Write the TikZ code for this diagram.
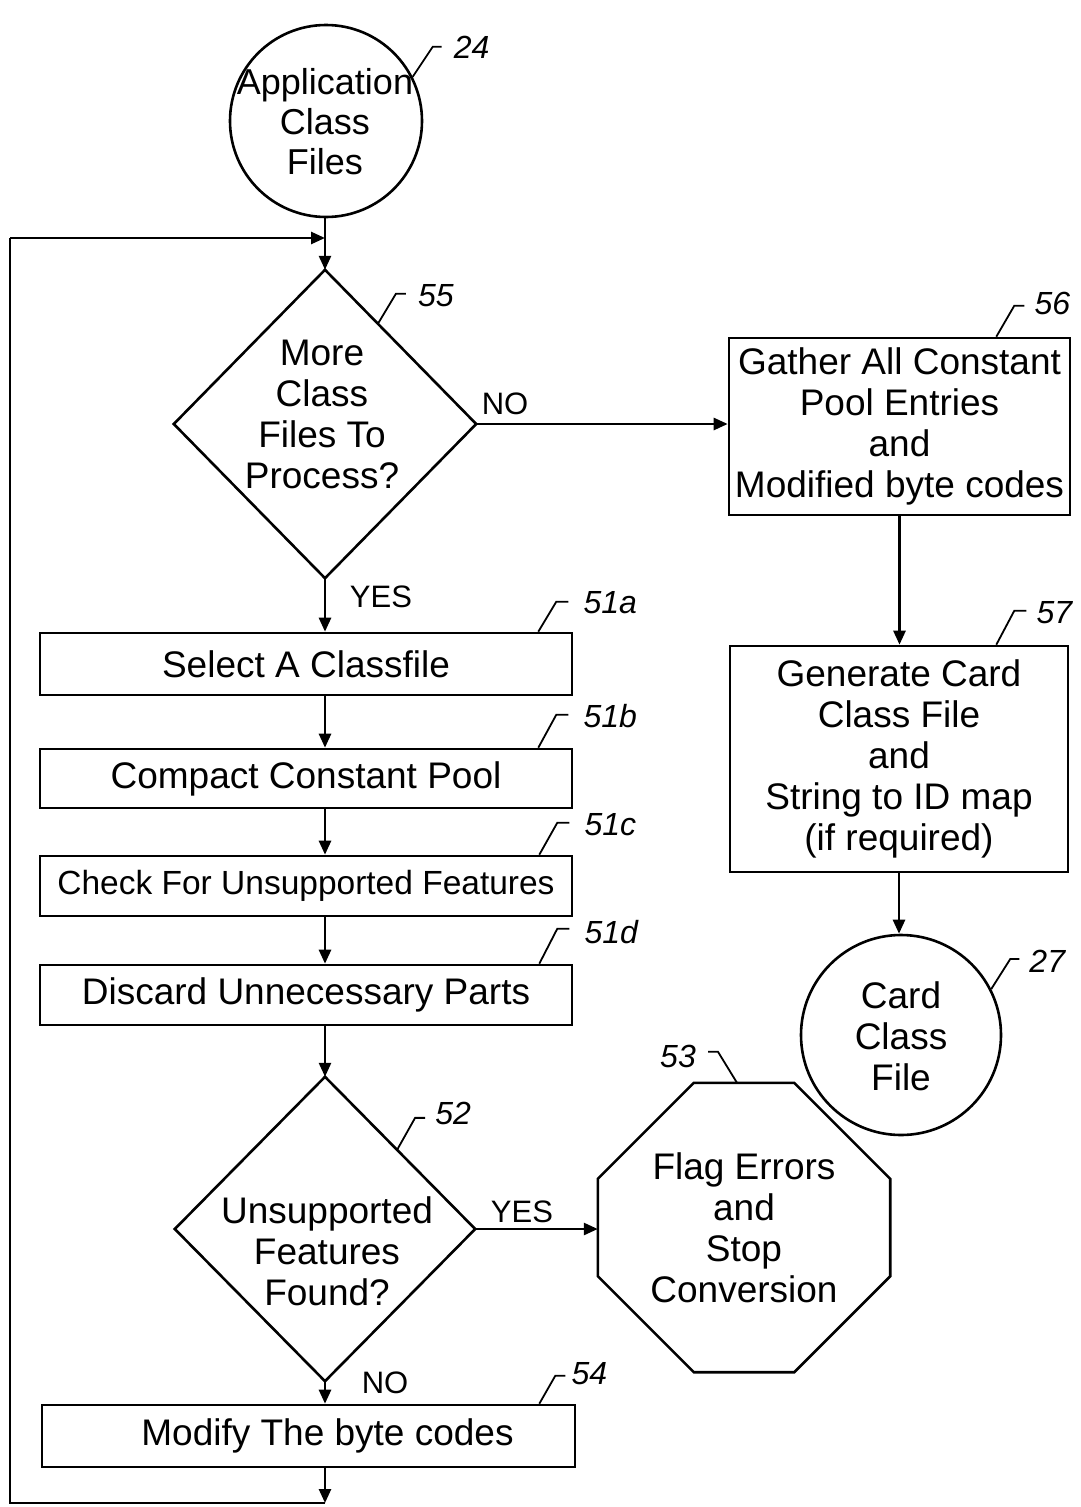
\documentclass[tikz,border=0pt]{standalone}
\usepackage{fontspec}
\setmainfont{Liberation Sans}
\usetikzlibrary{arrows.meta,calc}
\tikzset{
  ln/.style={line width=2.6pt},
  thinln/.style={line width=1.8pt},
  arr/.style={ln, -{Triangle[length=14pt,width=12pt]}},
  box/.style={draw, ln, rectangle, inner sep=0pt, align=center, font=\fontsize{37}{41}\selectfont},
  ring/.style={draw, ln, circle, inner sep=0pt},
  txt/.style={inner sep=0pt, align=center, font=\fontsize{37}{41}\selectfont},
  refnum/.style={font=\fontsize{32}{34}\selectfont\itshape, inner sep=0pt, anchor=west},
  yn/.style={font=\fontsize{31}{33}\selectfont, inner sep=0pt},
}
\begin{document}
\begin{tikzpicture}[x=1pt,y=-1pt]
\useasboundingbox (0,0) rectangle (1080,1507);

% start circle
\node[ring, minimum size=192pt] (c24) at (326,121) {};
\node[txt, font=\fontsize{36}{40}\selectfont] (t24) at (325,122) {Application\\Class\\Files};

% decision 55
\node[rectangle, minimum width=302pt, minimum height=308pt, inner sep=0pt] (d55) at (325,424) {};
\draw[ln] (d55.north) -- (d55.east) -- (d55.south) -- (d55.west) -- cycle;
\node[txt] (t55) at (322,414) {More\\Class\\Files To\\Process?};

% process boxes
\node[box, minimum width=532pt, minimum height=62pt] (m51a) at (306,664) {Select A Classfile};
\node[box, minimum width=532pt, minimum height=59pt] (m51b) at (306,778.5) {Compact Constant Pool};
\node[box, minimum width=532pt, minimum height=60pt, font=\fontsize{33.5}{40}\selectfont] (m51c) at (306,886) {Check For Unsupported Features};
\node[box, minimum width=532pt, minimum height=60pt] (m51d) at (306,995) {Discard Unnecessary Parts};

% decision 52
\node[rectangle, minimum width=300pt, minimum height=304pt, inner sep=0pt] (d52) at (325,1229) {};
\draw[ln] (d52.north) -- (d52.east) -- (d52.south) -- (d52.west) -- cycle;
\node[txt] (t52) at (327,1251) {Unsupported\\Features\\Found?};

% octagon 53
\node[txt, minimum width=292pt, minimum height=289pt] (o53) at (744,1227.5) {Flag Errors\\and\\Stop\\Conversion};
\draw[ln] ($(o53.north west)+(96,0)$) -- ($(o53.north east)+(-96,0)$)
  -- ($(o53.north east)+(0,96)$) -- ($(o53.south east)+(0,-96)$)
  -- ($(o53.south east)+(-96,0)$) -- ($(o53.south west)+(96,0)$)
  -- ($(o53.south west)+(0,-96)$) -- ($(o53.north west)+(0,96)$) -- cycle;

% box 54
\node[box, minimum width=533pt, minimum height=62pt] (m54) at (308.5,1436) {\hspace*{38pt}Modify The byte codes};

% right column
\node[box, minimum width=341pt, minimum height=177pt] (m56) at (899.5,426.5) {Gather All Constant\\Pool Entries\\and\\Modified byte codes};
\node[box, minimum width=338pt, minimum height=226pt] (m57) at (899,759) {Generate Card\\Class File\\and\\String to ID map\\(if required)};
\node[ring, minimum size=200pt] (c27) at (901,1035) {};
\node[txt] (t27) at (901,1036) {Card\\Class\\File};

% loop coordinates
\coordinate (lb) at (325,1503);
\coordinate (ll) at (10,1503);
\coordinate (lt) at (10,238);
\coordinate (lj) at (325,238);

% connectors
\draw[arr] (c24.south -| d55.north) -- (d55.north);
\draw[arr] (d55.south) -- (d55.south |- m51a.north);
\draw[arr] (m51a.south -| d55.south) -- (m51b.north -| d55.south);
\draw[arr] (m51b.south -| d55.south) -- (m51c.north -| d55.south);
\draw[arr] (m51c.south -| d55.south) -- (m51d.north -| d55.south);
\draw[arr] (m51d.south -| d55.south) -- (d52.north -| d55.south);
\draw[arr] (d52.south -| d55.south) -- (m54.north -| d55.south);
\draw[arr] (m54.south -| lb) -- (lb);
\draw[ln] (lb) -- (ll) -- (lt);
\draw[arr] (lt) -- (lj);
\draw[arr] (d55.east) -- (d55.east -| m56.west);
\draw[arr] (m56.south) -- (m56.south |- m57.north);
\draw[arr] (m57.south) -- (m57.south |- c27.north);
\draw[arr] (d52.east) -- (d52.east -| o53.west);

% branch labels
\node[yn] (no55) at (505,404) {NO};
\node[yn] (yes55) at (381,597) {YES};
\node[yn] (yes52) at (522,1212) {YES};
\node[yn] (no52) at (385,1383) {NO};

% reference numerals with leaders
\draw[thinln] (c24.27) -- ++(20,-30) -- ++(9,0) coordinate (h24);
\node[refnum] (l24) at ($(h24)+(12,0)$) {24};
\draw[thinln] ($(d55.north)!0.35!(d55.east)$) -- ++(18,-30) -- ++(10,0) coordinate (h55);
\node[refnum] (l55) at ($(h55)+(12,2)$) {55};
\draw[thinln] ($(m56.north east)+(-75,0)$) -- ++(18,-31) -- ++(10,0) coordinate (h56);
\node[refnum] (l56) at ($(h56)+(10,-2)$) {56};
\draw[thinln] ($(m57.north east)+(-73,0)$) -- ++(18,-34) -- ++(12,0) coordinate (h57);
\node[refnum] (l57) at ($(h57)+(10,2)$) {57};
\draw[thinln] (c27.27) -- ++(19,-30) -- ++(9,0) coordinate (h27);
\node[refnum] (l27) at ($(h27)+(10,2)$) {27};
\draw[thinln] ($(m51a.north east)+(-35,0)$) -- ++(18,-30) -- ++(12,0) coordinate (h51a);
\node[refnum] (l51a) at ($(h51a)+(15,1)$) {51a};
\draw[thinln] ($(m51b.north east)+(-35,0)$) -- ++(18,-33) -- ++(12,0) coordinate (h51b);
\node[refnum] (l51b) at ($(h51b)+(15,1)$) {51b};
\draw[thinln] ($(m51c.north east)+(-34,0)$) -- ++(18,-32) -- ++(12,0) coordinate (h51c);
\node[refnum] (l51c) at ($(h51c)+(15,2)$) {51c};
\draw[thinln] ($(m51d.north east)+(-34,0)$) -- ++(18,-35) -- ++(12,0) coordinate (h51d);
\node[refnum] (l51d) at ($(h51d)+(15,3)$) {51d};
\draw[thinln] ($(d52.north)!0.48!(d52.east)$) -- ++(18,-32) -- ++(10,0) coordinate (h52);
\node[refnum] (l52) at ($(h52)+(10,-4)$) {52};
\draw[thinln] ($(o53.north)+(-7,0)$) -- ++(-19,-31) -- ++(-10,0) coordinate (h53);
\node[refnum, anchor=east] (l53) at ($(h53)+(-12,5)$) {53};
\draw[thinln] ($(m54.north east)+(-37,0)$) -- ++(16,-28) -- ++(10,0) coordinate (h54);
\node[refnum] (l54) at ($(h54)+(6,-2)$) {54};
\end{tikzpicture}
\end{document}
